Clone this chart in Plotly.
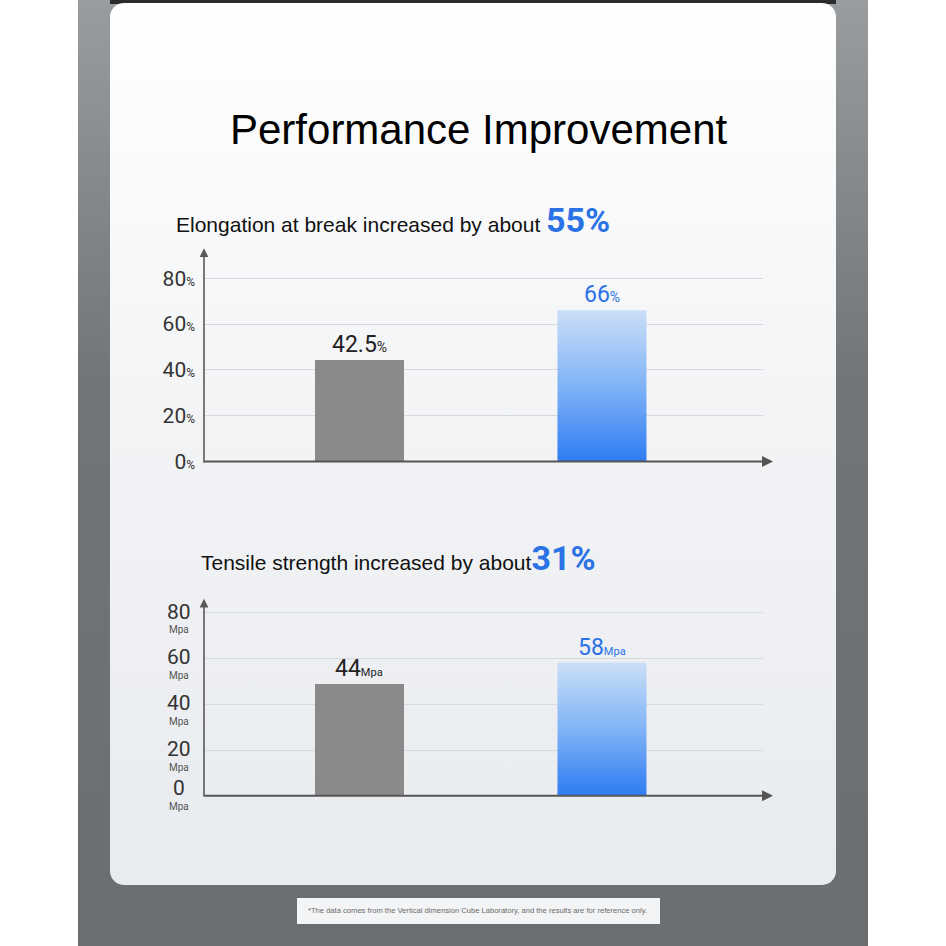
import numpy as np
import plotly.graph_objects as go

W = H = 946          # reference canvas (all positions below are in this space)
FIG_H = 959          # page viewport is taller than the photo; it is scaled back to 946

# ---------------- data ----------------
bar_positions = [1, 2]                      # before / after
elong_bar_values = [44.2, 66.0]             # drawn bar heights (%)
elong_value_labels = ["42.5", "66"]
tensile_bar_values = [49.0, 58.2]           # drawn bar heights (MPa)
tensile_value_labels = ["44", "58"]
y_ticks = [0, 20, 40, 60, 80]
title_text = "Performance Improvement"
elong_title = "Elongation at break increased by about"
elong_increase = "55%"
tensile_title = "Tensile strength increased by about"
tensile_increase = "31%"
footnote = "*The data comes from the Vertical dimension Cube Laboratory, and the results are for reference only."

# ---------------- styles ----------------
GRAY_BAR = "#8a8a8a"
BLUE = "#2a72e6"
BLUE_SCALE = [[0, "#2b7af2"], [0.5, "#7fb2f6"], [1, "#c9def7"]]
NUM_FONT = "Roboto, DejaVu Sans, sans-serif"
NARROW = "Liberation Sans Narrow, Arial Narrow, Liberation Sans, Arial, sans-serif"
BAR_W = 0.367
K = FIG_H / H        # pixel-offset correction


def px_y(py):
    return H - py


def rounded_rect(x0, y0, x1, y1, r, n=12):
    xs, ys = [], []
    corners = [
        (x1 - r, y0 + r, -90, 0),
        (x1 - r, y1 - r, 0, 90),
        (x0 + r, y1 - r, 90, 180),
        (x0 + r, y0 + r, 180, 270),
    ]
    for cx, cy, a0, a1 in corners:
        for a in np.linspace(np.radians(a0), np.radians(a1), n):
            xs.append(cx + r * np.cos(a))
            ys.append(px_y(cy + r * np.sin(a)))
    xs.append(xs[0])
    ys.append(ys[0])
    return xs, ys


fig = go.Figure()

# ---- decorative background (pixel axis x/y) ----
fig.add_trace(go.Scatter(
    x=[78, 868, 868, 78, 78], y=[px_y(0), px_y(0), px_y(946), px_y(946), px_y(0)],
    fill="toself", mode="none", hoverinfo="skip", showlegend=False,
    fillgradient=dict(type="vertical", start=px_y(946), stop=px_y(0),
                      colorscale=[[0, "#6b6e70"], [0.6, "#727577"], [0.8, "#85888a"], [1, "#9a9d9f"]]),
    xaxis="x", yaxis="y"))
fig.add_trace(go.Scatter(
    x=[110, 836, 836, 110, 110], y=[px_y(0), px_y(0), px_y(4), px_y(4), px_y(0)],
    fill="toself", mode="none", hoverinfo="skip", showlegend=False,
    fillcolor="#2a2b2c", xaxis="x", yaxis="y"))
cx, cy = rounded_rect(110, 3, 836, 884, 14)
fig.add_trace(go.Scatter(
    x=cx, y=cy, fill="toself", mode="none", hoverinfo="skip", showlegend=False,
    fillgradient=dict(type="vertical", start=px_y(884), stop=px_y(3),
                      colorscale=[[0, "#e8ebef"], [0.5, "#f2f3f5"], [1, "#ffffff"]]),
    xaxis="x", yaxis="y"))
fig.add_trace(go.Scatter(
    x=[297, 660, 660, 297, 297], y=[px_y(897), px_y(897), px_y(923), px_y(923), px_y(897)],
    fill="toself", mode="none", hoverinfo="skip", showlegend=False,
    fillcolor="#f3f4f6", xaxis="x", yaxis="y"))


def add_chart(xa, ya, values):
    # gray bar (before)
    fig.add_trace(go.Bar(
        x=[bar_positions[0]], y=[values[0]], width=BAR_W, marker=dict(color=GRAY_BAR, line=dict(width=0)),
        hoverinfo="skip", showlegend=False, xaxis=xa, yaxis=ya))
    # gradient blue bar (after)
    xc, v = bar_positions[1], values[1]
    fig.add_trace(go.Scatter(
        x=[xc - BAR_W / 2, xc + BAR_W / 2, xc + BAR_W / 2, xc - BAR_W / 2, xc - BAR_W / 2],
        y=[0, 0, v, v, 0], fill="toself", mode="none", hoverinfo="skip", showlegend=False,
        fillgradient=dict(type="vertical", start=0, stop=v, colorscale=BLUE_SCALE),
        xaxis=xa, yaxis=ya))


add_chart("x2", "y2", elong_bar_values)
add_chart("x3", "y3", tensile_bar_values)

axis_common = dict(showline=False, zeroline=False, fixedrange=True)
fig.update_layout(
    width=W, height=FIG_H, margin=dict(l=0, r=0, t=0, b=0),
    paper_bgcolor="#ffffff", plot_bgcolor="rgba(0,0,0,0)",
    showlegend=False, bargap=0,
    xaxis=dict(domain=[0, 1], range=[0, W], visible=False, **axis_common),
    yaxis=dict(domain=[0, 1], range=[0, H], visible=False, **axis_common),
    xaxis2=dict(domain=[204 / W, 763 / W], range=[0.359, 2.664], anchor="y2",
                showticklabels=False, showgrid=False, **axis_common),
    yaxis2=dict(domain=[1 - 461 / H, 1 - 248 / H], range=[0, 93.1], anchor="x2",
                tickvals=y_ticks,
                ticktext=[f"{t}<span style='font-size:12px'>%</span>" for t in y_ticks],
                tickfont=dict(family=NUM_FONT, size=21, color="#333333"),
                ticklabelstandoff=8,
                showgrid=True, gridcolor="#d6d9dd", gridwidth=1, **axis_common),
    xaxis3=dict(domain=[204 / W, 763 / W], range=[0.359, 2.664], anchor="y3",
                showticklabels=False, showgrid=False, **axis_common),
    yaxis3=dict(domain=[1 - 795 / H, 1 - 598 / H], range=[0, 86.1], anchor="x3",
                tickvals=y_ticks, showticklabels=False,
                showgrid=True, gridcolor="#d6d9dd", gridwidth=1, **axis_common),
)

ann = []
# main title
ann.append(dict(x=479 / W, y=1 - 129 / H, xref="paper", yref="paper", showarrow=False,
                text=title_text, font=dict(family=NARROW, size=42, color="#000000"),
                xanchor="center", yanchor="middle"))
# subtitles
big = "font-family:Roboto, sans-serif;font-weight:bold;font-size:34px;color:" + BLUE
ann.append(dict(x=174 / W, y=1 - 220 / H, xref="paper", yref="paper", showarrow=False,
                xanchor="left", yanchor="middle",
                text=f"{elong_title} <span style='{big}'>{elong_increase}</span>",
                font=dict(family=NARROW, size=21, color="#111111")))
ann.append(dict(x=199 / W, y=1 - 557 / H, xref="paper", yref="paper", showarrow=False,
                xanchor="left", yanchor="middle",
                text=f"{tensile_title}<span style='{big}'>{tensile_increase}</span>",
                font=dict(family=NARROW, size=21, color="#111111")))

# value labels
unit_pct = "<span style='font-size:14px'>%</span>"
unit_mpa = "<span style='font-size:11px'>Mpa</span>"
for xa, ya, vals, labs, unit in [
        ("x2", "y2", elong_bar_values, elong_value_labels, unit_pct),
        ("x3", "y3", tensile_bar_values, tensile_value_labels, unit_mpa)]:
    for j in range(2):
        ann.append(dict(x=bar_positions[j], y=vals[j], xref=xa, yref=ya, showarrow=False,
                        xanchor="center", yanchor="bottom", yshift=0,
                        text=labs[j] + unit,
                        font=dict(family=NUM_FONT, size=23, color="#222222" if j == 0 else BLUE)))

# tensile y-axis labels (number + Mpa)
for t in y_ticks:
    ann.append(dict(x=179 / W, y=t, xref="paper", yref="y3", showarrow=False,
                    xanchor="center", yanchor="middle", yshift=(1 if t else 8) * K,
                    text=str(t), font=dict(family=NUM_FONT, size=21, color="#333333")))
    ann.append(dict(x=179 / W, y=t, xref="paper", yref="y3", showarrow=False,
                    xanchor="center", yanchor="middle", yshift=(-17 if t else -11) * K,
                    text="Mpa", font=dict(family=NUM_FONT, size=10, color="#555555")))

# axis arrows
for (y0, ytop) in [(461, 248), (795, 598)]:
    ann.append(dict(x=204 / W, y=1 - ytop / H, xref="paper", yref="paper",
                    ax=0, ay=(y0 - ytop) * K, axref="pixel", ayref="pixel", text="",
                    showarrow=True, arrowhead=2, arrowsize=1.1, arrowwidth=1.6, arrowcolor="#5a5a5a"))
    ann.append(dict(x=773 / W, y=1 - y0 / H, xref="paper", yref="paper",
                    ax=-(773 - 203), ay=0, axref="pixel", ayref="pixel", text="",
                    showarrow=True, arrowhead=2, arrowsize=1.1, arrowwidth=2, arrowcolor="#555555"))

# footnote
ann.append(dict(x=478 / W, y=1 - 910 / H, xref="paper", yref="paper", showarrow=False,
                xanchor="center", yanchor="middle", text=footnote,
                font=dict(family=NARROW, size=7.6, color="#6a6a6a")))

fig.update_layout(annotations=ann)
fig.write_html("out.html", config={"displayModeBar": False},
               post_script="document.body.style.margin='0';document.body.style.overflow='hidden';")
